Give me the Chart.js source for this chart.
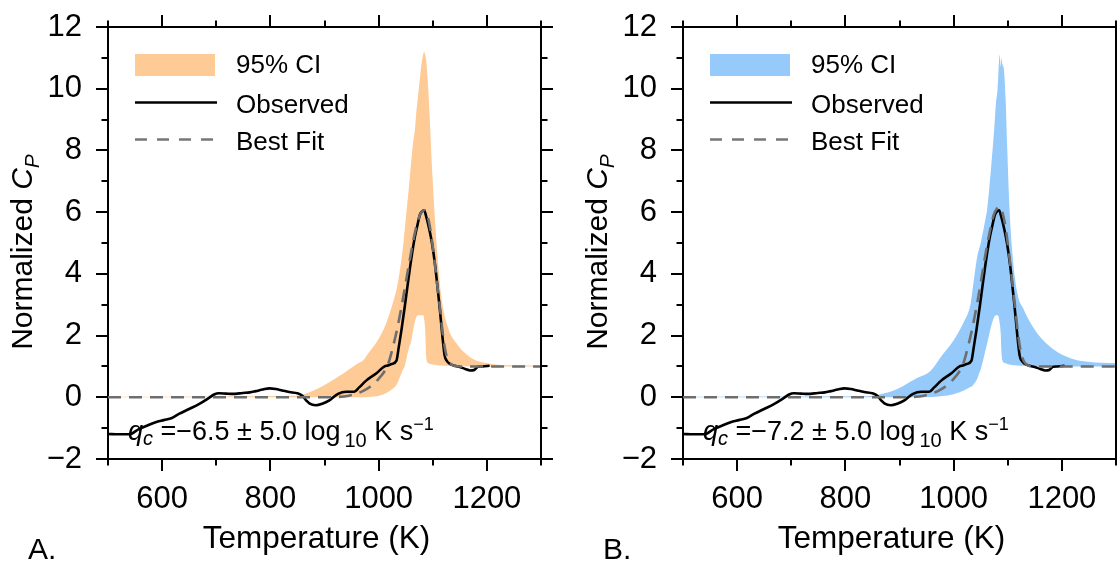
<!DOCTYPE html>
<html>
<head>
<meta charset="utf-8">
<script src="https://cdn.jsdelivr.net/npm/chart.js@4.4.1/dist/chart.umd.min.js"></script>
<style>
  html, body { margin: 0; padding: 0; background: #fff; width: 1117px; height: 561px; overflow: hidden; }
  canvas { position: absolute; top: 0; }
  #panelA { left: 0; }
  #panelB { left: 575px; }
</style>
</head>
<body>
<canvas id="panelA" width="575" height="561"></canvas>
<canvas id="panelB" width="542" height="561"></canvas>
<script>
const FONT = "'Liberation Sans', Arial, Helvetica, sans-serif";

// axis ticks
const xLabelVals = [600, 800, 1000, 1200];
const xMinorVals = [500, 700, 900, 1100, 1300];
const yLabelVals = [-2, 0, 2, 4, 6, 8, 10, 12];
const yMinorVals = [-1, 1, 3, 5, 7, 9, 11];

// observed curve (same in both panels)
const obsT = [500, 520, 539, 557, 572, 588, 603, 618, 631, 650,
  668, 684, 696, 705, 718, 730, 749, 762, 773, 786,
  798, 810, 822, 835, 850, 859, 866, 872, 884, 897,
  909, 925, 940, 955, 964, 977, 996, 1011, 1017, 1024,
  1033, 1037, 1042, 1048, 1054, 1060, 1067, 1072, 1076, 1080,
  1084, 1088, 1094, 1099, 1104, 1108, 1112, 1115, 1118, 1122,
  1126, 1131, 1140, 1150, 1160, 1169, 1176, 1184, 1192, 1205];
const obsCp = [-1.19, -1.2, -1.2, -1.03, -0.92, -0.81, -0.74, -0.67, -0.54, -0.38,
  -0.22, -0.05, 0.09, 0.13, 0.12, 0.11, 0.14, 0.16, 0.2, 0.25,
  0.29, 0.27, 0.22, 0.17, 0.13, 0.05, -0.1, -0.2, -0.26, -0.2,
  -0.1, 0.11, 0.18, 0.18, 0.32, 0.54, 0.78, 1.0, 1.03, 1.08,
  1.19, 1.6, 2.16, 2.9, 3.69, 4.45, 5.2, 5.6, 5.9, 6.02,
  6.06, 5.85, 5.41, 4.95, 4.33, 3.7, 3.04, 2.5, 1.95, 1.35,
  1.18, 1.09, 1.02, 0.98, 0.92, 0.87, 0.88, 0.99, 1.0, 1.02];

// best fit
const fitT = [500, 900, 925, 945, 960, 975, 990, 1000, 1010, 1018,
  1026, 1034, 1042, 1050, 1058, 1066, 1074, 1080, 1085, 1090,
  1096, 1102, 1108, 1114, 1119, 1124, 1130, 1138, 1150, 1300];
const fitA = [0, 0, 0.01, 0.05, 0.12, 0.24, 0.42, 0.6, 0.82, 1.1,
  1.6, 2.2, 2.9, 3.7, 4.5, 5.25, 5.8, 6.02, 6.06, 5.9,
  5.4, 4.6, 3.7, 2.8, 2.0, 1.45, 1.15, 1.03, 1.0, 1.0];
const fitB = [0, 0, 0.01, 0.05, 0.12, 0.24, 0.42, 0.6, 0.82, 1.1,
  1.6, 2.2, 2.9, 3.7, 4.55, 5.3, 5.9, 6.12, 6.17, 6.0,
  5.5, 4.7, 3.8, 2.85, 2.05, 1.48, 1.16, 1.03, 1.0, 1.0];

// 95% CI, panel A
const bandTA = [500, 850, 870, 900, 930, 960, 971, 980, 1002, 1015,
  1026, 1033, 1040, 1045, 1048, 1052, 1057, 1060, 1064, 1067,
  1070, 1073, 1076, 1080, 1083, 1084, 1086, 1088, 1091, 1094,
  1100, 1107, 1116, 1128, 1144, 1169, 1205, 1250, 1300];
const bandHighA = [0.02, 0.05, 0.15, 0.4, 0.72, 1.08, 1.19, 1.4, 1.95, 2.45,
  3.04, 3.5, 4.2, 4.87, 5.4, 6.1, 7.0, 7.6, 8.3, 8.66,
  9.3, 9.8, 10.3, 10.9, 11.15, 11.2, 11.1, 10.9, 10.2, 9.2,
  7.0, 5.0, 3.25, 2.27, 1.74, 1.3, 1.09, 1.04, 1.02];
const bandLowA = [0, 0, 0, 0, 0, 0, 0, 0.01, 0.06, 0.15,
  0.28, 0.4, 0.68, 0.9, 1.0, 1.3, 1.65, 1.8, 2.2, 2.45,
  2.62, 2.66, 2.66, 2.66, 2.65, 2.55, 2.2, 1.3, 1.12, 1.09,
  1.06, 1.04, 1.03, 1.02, 1.01, 1.0, 1.0, 1.0, 1.0];

// 95% CI, panel B
const bandTB = [500, 840, 870, 896, 930, 957, 976, 1000, 1019, 1031,
  1034, 1044, 1047, 1050, 1059, 1062, 1069, 1075, 1078, 1081,
  1083, 1085, 1087, 1088, 1090, 1093, 1096, 1099, 1103, 1108,
  1113, 1120, 1128, 1136, 1155, 1186, 1217, 1248, 1300];
const bandHighB = [0.02, 0.03, 0.12, 0.27, 0.6, 0.85, 1.3, 1.85, 2.45, 3.0,
  3.35, 4.6, 4.8, 5.0, 5.8, 6.1, 7.4, 8.7, 9.5, 9.95,
  10.6, 11.1, 10.7, 11.0, 10.8, 10.6, 9.7, 8.1, 6.2, 4.8,
  3.9, 3.2, 2.9, 2.6, 2.06, 1.53, 1.26, 1.15, 1.1];
const bandLowB = [0, 0, 0, 0, 0, 0.01, 0.03, 0.1, 0.22, 0.33,
  0.36, 0.62, 0.77, 0.9, 1.53, 1.75, 2.28, 2.6, 2.66, 2.66,
  2.62, 2.4, 2.08, 1.6, 1.2, 1.12, 1.1, 1.08, 1.06, 1.05,
  1.04, 1.03, 1.02, 1.02, 1.01, 1.0, 1.0, 1.0, 1.0];

const legendLabels = ['95% CI', 'Observed', 'Best Fit'];

function pts(xs, ys) {
  return xs.map((x, i) => ({ x: x, y: ys[i] }));
}

function font(size, italic) {
  return (italic ? 'italic ' : '') + size + 'px ' + FONT;
}

// draws a run of text pieces with different size/style/offset
function drawRuns(ctx, runs, x, y) {
  runs.forEach(r => {
    ctx.font = font(r.size, r.italic);
    x += r.dx || 0;
    ctx.fillText(r.t, x, y + (r.dy || 0));
    x += ctx.measureText(r.t).width;
  });
}
function runsWidth(ctx, runs) {
  let w = 0;
  runs.forEach(r => { ctx.font = font(r.size, r.italic); w += (r.dx || 0) + ctx.measureText(r.t).width; });
  return w;
}

const decor = {
  id: 'decor',
  afterDraw(chart, args, o) {
    const { ctx, chartArea: a } = chart;
    const x = chart.scales.x, y = chart.scales.y;
    ctx.save();

    // top and right frame + ticks on all sides
    ctx.strokeStyle = '#000';
    ctx.lineWidth = 2;
    ctx.beginPath();
    ctx.moveTo(a.left - 1, a.top);
    ctx.lineTo(a.right, a.top);
    ctx.lineTo(a.right, a.bottom + 1);
    const xt = (vals, len) => vals.forEach(v => {
      const px = Math.round(x.getPixelForValue(v));
      ctx.moveTo(px, a.bottom); ctx.lineTo(px, a.bottom + len);
      ctx.moveTo(px, a.top); ctx.lineTo(px, a.top - len);
    });
    const yt = (vals, len) => vals.forEach(v => {
      const py = Math.round(y.getPixelForValue(v));
      ctx.moveTo(a.left, py); ctx.lineTo(a.left - len, py);
      ctx.moveTo(a.right, py); ctx.lineTo(a.right + len, py);
    });
    xt(xLabelVals, 12); xt(xMinorVals, 6.5);
    yt(yLabelVals, 12); yt(yMinorVals, 6.5);
    ctx.stroke();

    // legend
    const lx = a.left + 27;
    ctx.fillStyle = o.band;
    ctx.fillRect(lx, a.top + 27, 80, 22);
    ctx.lineWidth = 2.5;
    ctx.strokeStyle = '#000';
    ctx.beginPath(); ctx.moveTo(lx, a.top + 75.5); ctx.lineTo(lx + 82, a.top + 75.5); ctx.stroke();
    ctx.strokeStyle = '#777';
    ctx.setLineDash([12, 10]);
    ctx.beginPath(); ctx.moveTo(lx, a.top + 112.5); ctx.lineTo(lx + 82, a.top + 112.5); ctx.stroke();
    ctx.setLineDash([]);
    ctx.fillStyle = '#000';
    ctx.textBaseline = 'alphabetic';
    ctx.textAlign = 'left';
    ctx.font = font(26);
    ctx.fillText(legendLabels[0], lx + 101, a.top + 46);
    ctx.fillText(legendLabels[1], lx + 101, a.top + 86);
    ctx.fillText(legendLabels[2], lx + 101, a.top + 123);

    // q_c annotation
    drawRuns(ctx, [
      { t: 'q', size: 27, italic: true },
      { t: 'c', size: 20, italic: true, dy: 5 },
      { t: ' =' + o.rate + ' log', size: 27 },
      { t: '10', size: 20, dy: 7, dx: 4 },
      { t: ' K s', size: 27 },
      { t: '\u22121', size: 18, dy: -10 }
    ], a.left + 20, a.bottom - 19);

    // y title, rotated
    const yRuns = [
      { t: 'Normalized ', size: 30 },
      { t: 'C', size: 30, italic: true },
      { t: 'P', size: 21, italic: true, dy: 7 }
    ];
    ctx.save();
    ctx.translate(a.left - 76, 252);
    ctx.rotate(-Math.PI / 2);
    drawRuns(ctx, yRuns, -runsWidth(ctx, yRuns) / 2, 0);
    ctx.restore();

    // x title
    ctx.font = font(31.5);
    ctx.textAlign = 'center';
    ctx.fillText('Temperature (K)', (a.left + a.right) / 2 - 8, 548);

    // panel tag
    ctx.font = font(30);
    ctx.textAlign = 'left';
    ctx.fillText(o.tag, a.left - 80, 559);
    ctx.restore();
  }
};

function makePanel(id, bandT, bandLow, bandHigh, fit, bandColor, rate, tag) {
  const canvas = document.getElementById(id);
  const W = canvas.width;
  return new Chart(canvas.getContext('2d'), {
    type: 'line',
    data: {
      datasets: [
        { data: pts(bandT, bandLow), borderColor: 'transparent', borderWidth: 0, fill: false, order: 3 },
        { data: pts(bandT, bandHigh), borderColor: 'transparent', borderWidth: 0, fill: '-1', backgroundColor: bandColor, order: 2 },
        { data: pts(obsT, obsCp), borderColor: '#000', borderWidth: 2.6, fill: false, order: 1 },
        { data: pts(fitT, fit), borderColor: '#6e6e6e', borderWidth: 2.6, borderDash: [13, 8], fill: false, order: 0 }
      ]
    },
    options: {
      responsive: false,
      animation: false,
      events: [],
      layout: { padding: { left: 0, top: 27, right: W - 541, bottom: 0 } },
      elements: {
        point: { radius: 0 },
        line: { cubicInterpolationMode: 'monotone' }
      },
      plugins: {
        legend: { display: false },
        tooltip: { enabled: false },
        decor: { band: bandColor, rate: rate, tag: tag }
      },
      scales: {
        x: {
          type: 'linear', min: 500, max: 1300,
          afterBuildTicks: s => { s.ticks = xLabelVals.map(v => ({ value: v })); },
          afterFit: s => { s.height = 102; s.paddingLeft = 0; s.paddingRight = 0; },
          grid: { drawOnChartArea: false, drawTicks: false },
          border: { color: '#000', width: 2 },
          ticks: {
            padding: 22, color: '#000', font: { family: FONT, size: 31 }, maxRotation: 0, autoSkip: false,
            callback: v => String(v)
          }
        },
        y: {
          type: 'linear', min: -2, max: 12,
          afterBuildTicks: s => { s.ticks = yLabelVals.map(v => ({ value: v })); },
          afterFit: s => { s.width = 108; s.paddingTop = 0; s.paddingBottom = 0; },
          grid: { drawOnChartArea: false, drawTicks: false },
          border: { color: '#000', width: 2 },
          ticks: {
            padding: 26, color: '#000', font: { family: FONT, size: 31 },
            callback: v => (v < 0 ? '\u2212' + Math.abs(v) : String(v))
          }
        }
      }
    },
    plugins: [decor]
  });
}

makePanel('panelA', bandTA, bandLowA, bandHighA, fitA, 'rgb(254, 202, 150)', '\u22126.5 \u00b1 5.0', 'A.');
makePanel('panelB', bandTB, bandLowB, bandHighB, fitB, 'rgb(150, 202, 250)', '\u22127.2 \u00b1 5.0', 'B.');
</script>
</body>
</html>
